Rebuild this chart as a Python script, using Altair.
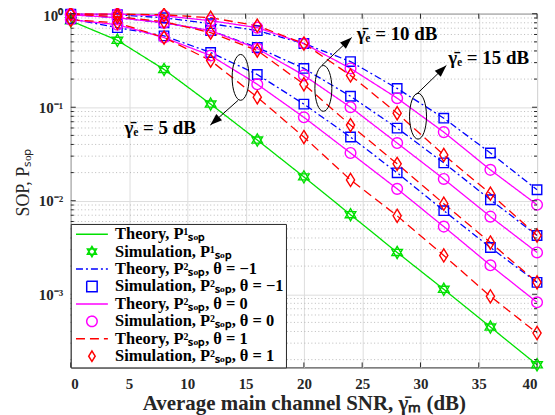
import altair as alt
import pandas as pd

# ---------------- data ----------------
snr = [0, 4, 8, 12, 16, 20, 24, 28, 32, 36, 40]

p1_green = [0.84, 0.52, 0.254, 0.108, 0.0446, 0.018, 0.0071, 0.0028, 0.00113, 0.000446, 0.000176]

b15 = [0.99, 0.976, 0.906, 0.783, 0.66, 0.48, 0.308, 0.159, 0.0764, 0.0324, 0.0131]
m15 = [0.99, 0.99, 0.95, 0.843, 0.71, 0.48, 0.26, 0.125, 0.0542, 0.0214, 0.00906]
r15 = [0.995, 0.99, 0.976, 0.906, 0.745, 0.48, 0.219, 0.0863, 0.0309, 0.0119, 0.00425]

b10 = [0.976, 0.906, 0.80, 0.66, 0.435, 0.26, 0.131, 0.0598, 0.0254, 0.01026, 0.00425]
m10 = [0.976, 0.906, 0.80, 0.66, 0.424, 0.219, 0.1, 0.0414, 0.0171, 0.00676, 0.0028]
r10 = [0.99, 0.93, 0.822, 0.628, 0.404, 0.176, 0.0644, 0.0248, 0.0093, 0.00357, 0.00134]

b5 = [0.885, 0.71, 0.58, 0.385, 0.224, 0.108, 0.048, 0.0199, 0.00783, 0.00316, 0.00134]
m5 = [0.863, 0.764, 0.556, 0.357, 0.176, 0.078, 0.0324, 0.0134, 0.00529, 0.00204, 0.00082]
r5 = [0.863, 0.80, 0.556, 0.316, 0.128, 0.048, 0.0167, 0.0069, 0.0026, 0.00095, 0.000385]

legend_labels = [
    "Theory, P¹ₛₒₚ",
    "Simulation, P¹ₛₒₚ",
    "Theory, P²ₛₒₚ, θ = −1",
    "Simulation, P²ₛₒₚ, θ = −1",
    "Theory, P²ₛₒₚ, θ = 0",
    "Simulation, P²ₛₒₚ, θ = 0",
    "Theory, P²ₛₒₚ, θ = 1",
    "Simulation, P²ₛₒₚ, θ = 1",
]
legend_colors = ["#00e000", "#00e000", "#0000ff", "#0000ff",
                 "#ff00ff", "#ff00ff", "#ff0000", "#ff0000"]

x_ticks = [0, 5, 10, 15, 20, 25, 30, 35, 40]
y_major = [1, 0.1, 0.01, 0.001]
y_minor = [k * 10.0 ** e for e in (-4, -3, -2, -1) for k in range(2, 10)
           if k * 10.0 ** e >= 1.65e-4]

# annotations: ellipse centres, arrows, labels
ell_x = [14.57, 21.67, 29.79]
ell_y = [0.2086, 0.159, 0.0802]
arr_x = [14.36, 21.54, 29.66]
arr_y = [0.1187, 0.280, 0.1375]
arr_x2 = [11.97, 24.10, 32.22]
arr_y2 = [0.0644, 0.556, 0.280]
arr_ang = [228, 47, 46]
txt_x = [4.62, 24.53, 32.39]
txt_y = [0.0598, 0.612, 0.332]
txt = ["γ̄ₑ = 5 dB", "γ̄ₑ = 10 dB", "γ̄ₑ = 15 dB"]

# ---------------- build tables ----------------
curves = [
    ("g", p1_green, 0, "hex"),
    ("b5", b5, 2, "sq"), ("b10", b10, 2, "sq"), ("b15", b15, 2, "sq"),
    ("m5", m5, 4, "circ"), ("m10", m10, 4, "circ"), ("m15", m15, 4, "circ"),
    ("r5", r5, 6, "dia"), ("r10", r10, 6, "dia"), ("r15", r15, 6, "dia"),
]
rows = []
for name, vals, li, mk in curves:
    for xv, yv in zip(snr, vals):
        rows.append(dict(curve=name, snr=xv, sop=yv, theory=legend_labels[li],
                         sim=legend_labels[li + 1], mk=mk))
df = pd.DataFrame(rows)

ann_ell = pd.DataFrame(dict(x=ell_x, y=ell_y))
ann_arr = pd.DataFrame(dict(x=arr_x, y=arr_y, x2=arr_x2, y2=arr_y2, ang=arr_ang))
ann_txt = pd.DataFrame(dict(x=txt_x, y=txt_y, t=txt))
df_xt = pd.DataFrame(dict(v=x_ticks))
df_ymaj = pd.DataFrame(dict(v=y_major))
df_ymin = pd.DataFrame(dict(v=y_minor))

# ---------------- styling ----------------
W, H = 468, 355
FONT = "Liberation Serif"
INK = "#262626"
PAD = " M-3.05,0 M3.05,0"   # invisible extent so all legend symbols share one width
HEX = "M0,-1 L0.866,0.5 L-0.866,0.5 Z M0,1 L-0.866,-0.5 L0.866,-0.5 Z" + PAD
DIA = "M0,-1 L0.62,0 L0,1 L-0.62,0 Z" + PAD
SQR = "M-1,-1 L1,-1 L1,1 L-1,1 Z" + PAD
CIR = ("M1,0 C1,0.5523 0.5523,1 0,1 C-0.5523,1 -1,0.5523 -1,0 "
       "C-1,-0.5523 -0.5523,-1 0,-1 C0.5523,-1 1,-0.5523 1,0 Z" + PAD)
LINE = "M-3.05,0 L3.05,0"
ELL = ("M0,-1 C0.2043,-1 0.37,-0.5523 0.37,0 C0.37,0.5523 0.2043,1 0,1 "
       "C-0.2043,1 -0.37,0.5523 -0.37,0 C-0.37,-0.5523 -0.2043,-1 0,-1 Z")
HEAD = "M0,0 L-0.36,1 L0.36,1 Z"

xs = alt.Scale(domain=[0, 40], nice=False, zero=False)
ys = alt.Scale(type="log", domain=[1.65e-4, 1], nice=False)
cs = alt.Scale(domain=legend_labels, range=legend_colors)
shs = alt.Scale(domain=legend_labels,
                range=[LINE, HEX, LINE, SQR, LINE, CIR, LINE, DIA])
dss = alt.Scale(domain=legend_labels,
                range=[[1, 0], [1, 0], [7, 3, 2, 3], [1, 0], [1, 0], [1, 0], [9, 5], [1, 0]])

leg = alt.Legend(
    title=None, orient="bottom-left", offset=0, padding=2, rowPadding=0.5,
    fillColor="white", strokeColor=INK, zindex=3,
    labelFont=FONT, labelFontSize=16.5, labelFontWeight="bold", labelColor="black",
    labelLimit=400, symbolSize=110, symbolOffset=11, labelOffset=15,
    symbolStrokeWidth=1.5, symbolFillColor="transparent", symbolOpacity=1,
)

xaxis = alt.Axis(values=x_ticks, grid=True, gridColor="#dddddd", domain=False, ticks=False,
                 labelFont=FONT, labelFontSize=15, labelFontWeight="bold", labelColor=INK,
                 labelPadding=9, title="Average main channel SNR, γ̄ₘ (dB)",
                 titleFont=FONT, titleFontSize=21, titleFontWeight="bold", titleColor=INK,
                 titlePadding=1)
yaxis = alt.Axis(values=y_major, grid=True, gridColor="#dddddd", domain=False, ticks=False,
                 labelExpr="datum.value > 0.5 ? '10⁰' : datum.value > 0.05 ? '10⁻¹' : datum.value > 0.005 ? '10⁻²' : '10⁻³'",
                 labelFont=FONT, labelFontSize=15, labelFontWeight="bold", labelColor=INK,
                 labelPadding=8, labelFlush=True, labelFlushOffset=5,
                 title="SOP, Pₛₒₚ", titleFont=FONT, titleFontSize=18,
                 titleFontWeight="normal", titleColor=INK, titlePadding=6, titleY=169)


def X(f):
    return alt.X(f, scale=xs, axis=xaxis)


def Y(f):
    return alt.Y(f, scale=ys, axis=yaxis)


base = alt.Chart(df)

minor_grid = alt.Chart(df_ymin).mark_rule(color="#aaaaaa", strokeDash=[1, 2.5], strokeWidth=0.8).encode(
    y=Y("v:Q"), x=alt.value(0), x2=alt.value(W))

lines = base.mark_line(strokeWidth=1.3).encode(
    x=X("snr:Q"),
    y=Y("sop:Q"),
    color=alt.Color("theory:N", scale=cs, legend=leg),
    strokeDash=alt.StrokeDash("theory:N", scale=dss, legend=leg),
    detail="curve:N",
    order="snr:Q",
)


def pts(mk, size):
    return base.transform_filter(alt.datum.mk == mk).mark_point(
        size=size, filled=False, strokeWidth=1.4, opacity=1).encode(
        x=X("snr:Q"),
        y=Y("sop:Q"),
        color=alt.Color("sim:N", scale=cs, legend=leg),
        shape=alt.Shape("sim:N", scale=shs, legend=leg),
    )


p_hex = pts("hex", 150)
p_sq = pts("sq", 90)
p_circ = pts("circ", 115)
p_dia = pts("dia", 175)

ellipses = alt.Chart(ann_ell).mark_point(shape=ELL, size=2116, filled=False, color="black",
                                         strokeWidth=1, opacity=1).encode(
    x=X("x:Q"), y=Y("y:Q"))
arrows = alt.Chart(ann_arr).mark_rule(color="black", strokeWidth=1).encode(
    x=X("x:Q"), y=Y("y:Q"), x2="x2:Q", y2="y2:Q")
heads = alt.Chart(ann_arr).mark_point(shape=HEAD, size=576, filled=True, color="black", opacity=1).encode(
    x=X("x2:Q"), y=Y("y2:Q"), angle=alt.Angle("ang:Q", scale=None))
labels = alt.Chart(ann_txt).mark_text(align="left", baseline="middle", font=FONT, fontSize=19,
                                      fontWeight="bold", color="black").encode(
    x=X("x:Q"), y=Y("y:Q"), text="t:N")

# inward ticks
xt_bot = alt.Chart(df_xt).mark_rule(color=INK).encode(
    x=X("v:Q"), y=alt.value(H), y2=alt.value(H - 5))
xt_top = alt.Chart(df_xt).mark_rule(color=INK).encode(
    x=X("v:Q"), y=alt.value(0), y2=alt.value(5))
yt_l = alt.Chart(df_ymaj).mark_rule(color=INK).encode(
    y=Y("v:Q"), x=alt.value(0), x2=alt.value(5))
yt_r = alt.Chart(df_ymaj).mark_rule(color=INK).encode(
    y=Y("v:Q"), x=alt.value(W), x2=alt.value(W - 5))
ym_l = alt.Chart(df_ymin).mark_rule(color=INK).encode(
    y=Y("v:Q"), x=alt.value(0), x2=alt.value(3))
ym_r = alt.Chart(df_ymin).mark_rule(color=INK).encode(
    y=Y("v:Q"), x=alt.value(W), x2=alt.value(W - 3))

chart = alt.layer(
    minor_grid, lines, p_hex, p_sq, p_circ, p_dia,
    ellipses, arrows, heads, labels,
    xt_bot, xt_top, yt_l, yt_r, ym_l, ym_r,
).properties(
    width=W, height=H,
    padding={"left": 63, "top": 5, "right": 10, "bottom": 47},
    autosize=alt.AutoSizeParams(type="none"),
).configure_view(stroke=INK, strokeWidth=1)

chart.save("out.html", embed_options={"renderer": "svg", "actions": False})
